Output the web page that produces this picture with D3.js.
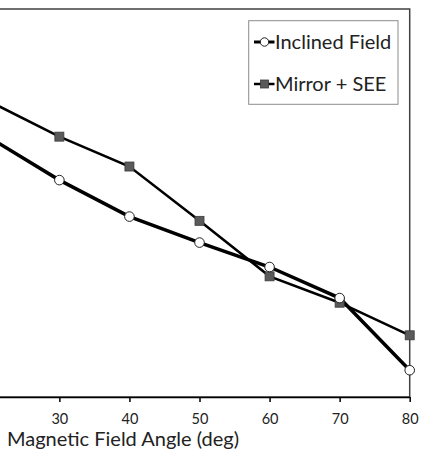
<!DOCTYPE html>
<html><head><meta charset="utf-8">
<script src="https://cdn.jsdelivr.net/npm/d3@7"></script>
<style>body{margin:0;background:#fff}svg{display:block}</style>
</head><body>
<svg id="c" width="438" height="457"></svg>
<script>
const angles = [20, 30, 40, 50, 60, 70, 80];
const inclinedField = [66.9, 55.9, 46.5, 39.8, 33.5, 25.5, 6.9];
const mirrorSEE = [76.2, 67.1, 59.4, 45.4, 31.1, 24.3, 15.9];
const xTicks = [20, 30, 40, 50, 60, 70, 80];
const seriesNames = ["Inclined Field", "Mirror + SEE"];

const svg = d3.select("#c");
const font = "Lato, 'Open Sans', sans-serif";
const x = d3.scaleLinear().domain([20, 80]).range([-10.7, 409.7]);
const y = d3.scaleLinear().domain([0, 100]).range([397, 9]);

// plot border (top & right visible)
svg.append("rect").attr("x", -80).attr("y", y(100)).attr("width", x(80) + 80).attr("height", y(0) - y(100))
  .attr("fill", "none").attr("stroke", "#404040").attr("stroke-width", 1.5);

// x axis
const ax = svg.append("g").attr("transform", `translate(0,${y(0)})`)
  .call(d3.axisBottom(x).tickValues(xTicks).tickSize(5).tickPadding(12).tickSizeOuter(0));
ax.select(".domain").attr("stroke", "#000").attr("stroke-width", 1.5);
ax.selectAll(".tick line").attr("stroke", "#000").attr("stroke-width", 1.5);
ax.selectAll(".tick text").attr("font-family", font).attr("font-size", 14.5).attr("fill", "#222");

svg.append("text").attr("x", 123).attr("y", 446).attr("text-anchor", "middle")
  .attr("font-family", font).attr("font-size", 20).attr("fill", "#222")
  .text("Magnetic Field Angle (deg)");

const line = d3.line().x(d => x(d[0])).y(d => y(d[1]));
const inc = angles.map((a, i) => [a, inclinedField[i]]);
const mir = angles.map((a, i) => [a, mirrorSEE[i]]);

svg.append("path").datum(mir).attr("d", line).attr("fill", "none").attr("stroke", "#000").attr("stroke-width", 2.5);
svg.append("path").datum(inc).attr("d", line).attr("fill", "none").attr("stroke", "#000").attr("stroke-width", 3.5);

svg.selectAll(".sq").data(mir).enter().append("rect")
  .attr("x", d => x(d[0]) - 4.5).attr("y", d => y(d[1]) - 4.5).attr("width", 9).attr("height", 9)
  .attr("fill", "#5a5a5a").attr("stroke", "#3a3a3a").attr("stroke-width", 0.8);
svg.selectAll(".ci").data(inc).enter().append("circle")
  .attr("cx", d => x(d[0])).attr("cy", d => y(d[1])).attr("r", 4.8)
  .attr("fill", "#fff").attr("stroke", "#222").attr("stroke-width", 1);

// legend
const lg = svg.append("g");
lg.append("rect").attr("x", 248.7).attr("y", 20.7).attr("width", 149.3).attr("height", 83.6)
  .attr("fill", "#fff").attr("stroke", "#8c8c8c").attr("stroke-width", 1);
const rows = [{name: seriesNames[0], yy: 42, type: "c"}, {name: seriesNames[1], yy: 84, type: "s"}];
rows.forEach(r => {
  lg.append("line").attr("x1", 254).attr("x2", 274.5).attr("y1", r.yy).attr("y2", r.yy)
    .attr("stroke", "#000").attr("stroke-width", r.type === "c" ? 3 : 2.5);
  if (r.type === "c") lg.append("circle").attr("cx", 264.5).attr("cy", r.yy).attr("r", 4.2)
    .attr("fill", "#fff").attr("stroke", "#222").attr("stroke-width", 1);
  else lg.append("rect").attr("x", 260.5).attr("y", r.yy - 4).attr("width", 8).attr("height", 8)
    .attr("fill", "#5a5a5a").attr("stroke", "#3a3a3a").attr("stroke-width", 0.8);
  lg.append("text").attr("x", 275).attr("y", r.yy + 7).attr("font-family", font).attr("font-size", 20)
    .attr("fill", "#222").text(r.name);
});
</script>
</body></html>
